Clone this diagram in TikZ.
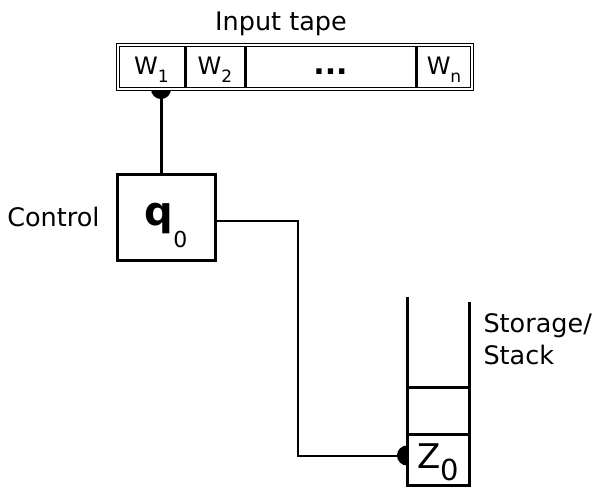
\documentclass[tikz,border=0pt]{standalone}
\usepackage{fontspec}
\setmainfont{DejaVu Sans}
\usetikzlibrary{positioning, arrows.meta, backgrounds}

\newcommand{\wsym}[1]{W\raisebox{-8pt}{\fontsize{17}{17}\selectfont #1}}

\tikzset{
    every node/.style={font=\fontsize{25.5}{32}\selectfont},
    cell/.style={draw, line width=3pt, fill=white, inner sep=0pt, outer sep=0pt,
        minimum height=44pt, text height=20pt, text depth=6pt,
        font=\fontsize{24}{24}\selectfont},
    tapeframe/.style={line width=1.5pt, double=white, double distance=1.6pt},
    box/.style={draw, line width=3pt, fill=white, inner sep=0pt, outer sep=0pt,
        minimum width=98pt, minimum height=86pt, text height=39pt, text depth=23pt,
        font=\fontsize{40}{40}\selectfont},
    slot/.style={draw, line width=3pt, fill=white, inner sep=0pt, outer sep=0pt,
        minimum width=62pt, text height=29pt, text depth=12pt,
        font=\fontsize{34}{34}\selectfont},
    wall/.style={line width=3pt},
    link/.style={line width=3pt},
    thinlink/.style={line width=2pt},
    knob/.style={-{Circle[length=20pt, width=20pt]}, shorten >=-10pt}
}

\begin{document}
\begin{tikzpicture}[x=1pt, y=-1pt]
    \useasboundingbox (0,0) rectangle (598,488);

    % input tape
    \node[cell, minimum width=67pt] (w1) at (151.5,67) {\wsym{1}};
    \node[cell, minimum width=60pt, right=0pt of w1] (w2) {\wsym{2}};
    \node[cell, minimum width=171pt, right=0pt of w2] (dots) {\bfseries\fontsize{30}{30}\selectfont ...};
    \node[cell, minimum width=56pt, right=0pt of dots] (wn) {\wsym{n}};
    \draw[tapeframe] (w1.north west) rectangle (wn.south east);
    \node (tapelbl) at (281,24) {Input tape};

    % finite control
    \node[box] (ctrl) at (166,217) {\bfseries q\raisebox{-22pt}{\mdseries\fontsize{22}{22}\selectfont 0}};
    \node[left=14pt of ctrl] (ctrllbl) {Control};

    % stack
    \node[slot, minimum height=51pt] (z0) at (438,459.5) {Z\raisebox{-12pt}{\fontsize{29}{29}\selectfont 0}};
    \node[slot, minimum height=47pt, above=0pt of z0] (s1) {};
    \coordinate (topL) at (407,297);
    \coordinate (topR) at (469,302);
    \draw[wall] (s1.north west) -- (topL);
    \draw[wall] (s1.north east) -- (topR);
    \node[anchor=north west, align=left] (stacklbl) at (480,310) {Storage/\\Stack};

    % connectors
    \coordinate (grip) at ([xshift=-5pt]ctrl.north);
    \coordinate (bend) at (298,0);
    \coordinate (out) at ([yshift=-4pt]ctrl.east);
    \coordinate (in) at ([yshift=4pt]z0.west);
    \begin{scope}[on background layer]
        \draw[link, knob] (grip) -- (grip |- w1.south);
        \draw[thinlink, knob] (out) -- (out -| bend) -- (bend |- in) -- (in);
    \end{scope}
\end{tikzpicture}
\end{document}
